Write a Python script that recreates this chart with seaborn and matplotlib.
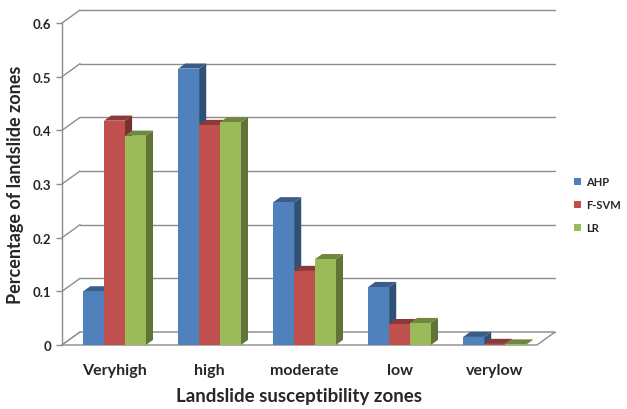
import numpy as np
import pandas as pd
import matplotlib
matplotlib.use("Agg")
import matplotlib.pyplot as plt
from matplotlib.patches import Polygon, Patch, Rectangle
import matplotlib.colors as mcolors
import seaborn as sns

zones = ["Veryhigh", "high", "moderate", "low", "verylow"]
models = ["AHP", "F-SVM", "LR"]
ahp = [0.10, 0.515, 0.266, 0.108, 0.015]
fsvm = [0.418, 0.410, 0.138, 0.039, 0.002]
lr = [0.390, 0.415, 0.160, 0.041, 0.001]
yticks = [0, 0.1, 0.2, 0.3, 0.4, 0.5, 0.6]
colors = ["#4F81BD", "#C0504D", "#9BBB59"]

df = pd.DataFrame({
    "zone": zones * 3,
    "model": sum([[m] * len(zones) for m in models], []),
    "value": ahp + fsvm + lr,
})

sns.set_theme(style="white")
plt.rcParams["font.family"] = ["Lato", "DejaVu Sans"]

fig = plt.figure(figsize=(6.27, 4.10), dpi=100)
ax = fig.add_axes([62 / 627, 64 / 410, 475 / 627, 322 / 410])

sns.barplot(data=df, x="zone", y="value", hue="model", order=zones,
            hue_order=models, palette=colors, width=0.66, saturation=1,
            legend=False, ax=ax)
bars = sorted([p for p in ax.patches if isinstance(p, Rectangle)],
              key=lambda p: p.get_x())

xl, xr = -0.553, 4.447
ax.set_xlim(xl, xr)
ax.set_ylim(0, 0.6)

# perspective offsets (data units): back wall depth and bar depth
wdx, wdy = 0.19, 0.0242
bdx, bdy = 0.075, 0.0095
grid_c = "#8C8C8C"

# back wall gridlines and left-wall diagonals
for v in yticks:
    ax.plot([xl + wdx, xr + wdx], [v + wdy, v + wdy], color=grid_c, lw=1.0,
            clip_on=False, zorder=0.5)
    ax.plot([xl, xl + wdx], [v, v + wdy], color=grid_c, lw=1.0,
            clip_on=False, zorder=0.5)

# floor
floor = Polygon([(xl, 0), (xr, 0), (xr + wdx, wdy), (xl + wdx, wdy)],
                closed=True, facecolor="white", edgecolor=grid_c, lw=1.0,
                clip_on=False, zorder=0.6)
ax.add_patch(floor)


def shade(c, f):
    r, g, b = mcolors.to_rgb(c)
    return (r * f, g * f, b * f)


for k, b in enumerate(bars):
    x0, w, h = b.get_x(), b.get_width(), b.get_height()
    fc = b.get_facecolor()
    z = 2 + k * 0.01
    b.set_zorder(z + 0.005)
    b.set_edgecolor("none")
    side = Polygon([(x0 + w, 0), (x0 + w + bdx, bdy), (x0 + w + bdx, h + bdy),
                    (x0 + w, h)], closed=True, facecolor=shade(fc, 0.62),
                   edgecolor="none", zorder=z, clip_on=False)
    top = Polygon([(x0, h), (x0 + w, h), (x0 + w + bdx, h + bdy),
                   (x0 + bdx, h + bdy)], closed=True, facecolor=shade(fc, 0.72),
                  edgecolor="none", zorder=z, clip_on=False)
    ax.add_patch(side)
    ax.add_patch(top)

for s in ["top", "right", "bottom"]:
    ax.spines[s].set_visible(False)
ax.spines["left"].set_color(grid_c)
ax.spines["left"].set_linewidth(1.0)

ax.set_yticks(yticks)
ax.set_yticklabels(["0", "0.1", "0.2", "0.3", "0.4", "0.5", "0.6"])
ax.tick_params(axis="y", length=4, width=1, color=grid_c, labelsize=9.5,
               pad=4, left=True)
ax.tick_params(axis="x", length=0, labelsize=11.5, pad=13)
for t in ax.get_yticklabels() + ax.get_xticklabels():
    t.set_fontweight("bold")

ax.set_xlabel("Landslide susceptibility zones", fontsize=13.5,
              fontweight="bold", labelpad=7)
ax.set_ylabel("Percentage of landslide zones", fontsize=13,
              fontweight="bold", labelpad=6)

handles = [Patch(facecolor=c, edgecolor="none", label=m)
           for m, c in zip(models, colors)]
leg = fig.legend(handles=handles, loc="upper left",
                 bbox_to_anchor=(574 / 627, 1 - 177 / 410), frameon=False,
                 borderpad=0, borderaxespad=0,
                 handlelength=0.6, handleheight=0.6, handletextpad=0.45,
                 labelspacing=1.1, prop={"weight": "bold", "size": 8})

fig.savefig("out.png", dpi=100)
